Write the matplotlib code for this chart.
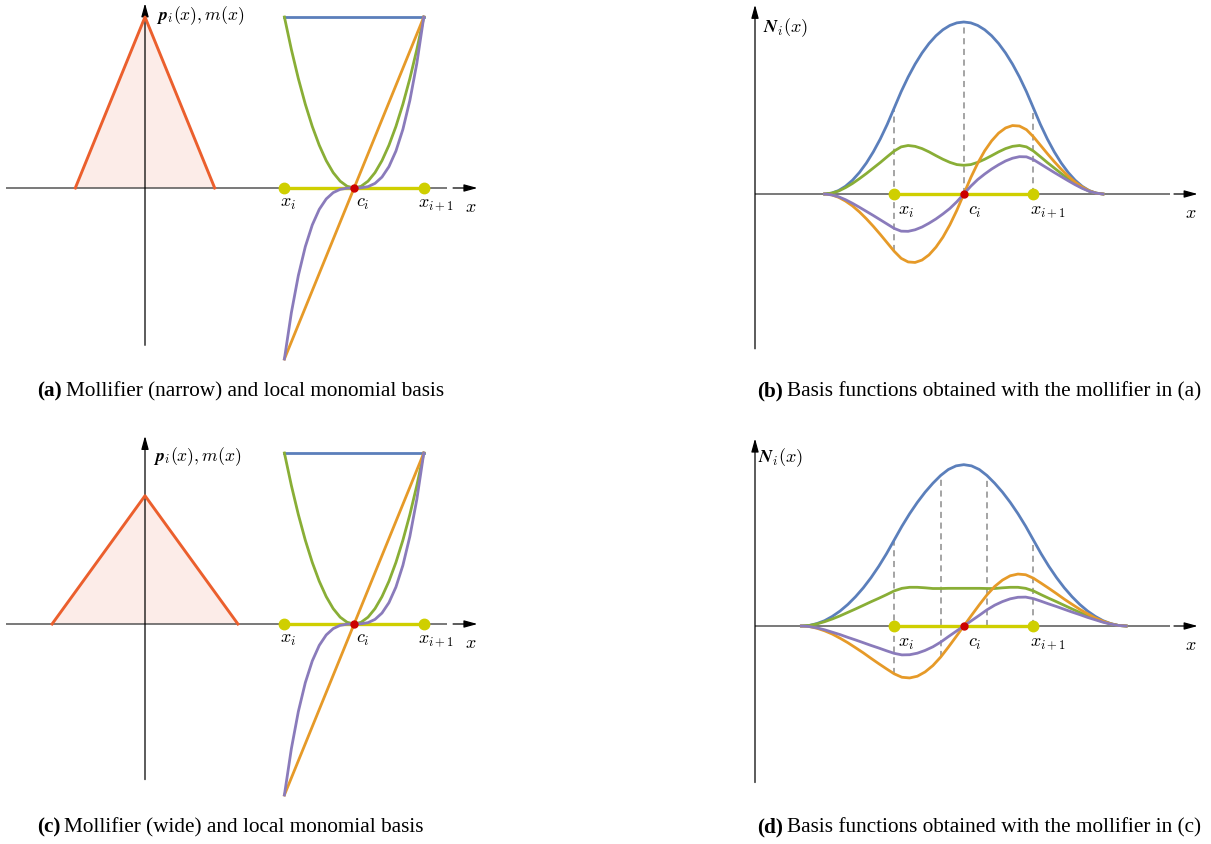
import numpy as np
import matplotlib
matplotlib.use("Agg")
import matplotlib.pyplot as plt

plt.rcParams["mathtext.fontset"] = "cm"

# interval and centre: x_i = 2, c_i = 3, x_{i+1} = 4
node_x = [2.0, 4.0]
node_y = [0.0, 0.0]
centre_x = [3.0]
centre_y = [0.0]

# mollifiers (hat functions)
moll_narrow_x = [-1.0, 0.0, 1.0]
moll_narrow_y = [0.0, 1.0, 0.0]
moll_wide_x = [-1.333, 0.0, 1.333]
moll_wide_y = [0.0, 0.75, 0.0]

# local monomial basis on [x_i, x_{i+1}]
box_x = [2.0, 4.0]
mono_p0 = [1.0, 1.0]
mono_x = [2.0, 2.1, 2.2, 2.3, 2.4, 2.5, 2.6, 2.7, 2.8, 2.9, 3.0,
          3.1, 3.2, 3.3, 3.4, 3.5, 3.6, 3.7, 3.8, 3.9, 4.0]
mono_p1 = [-1.0, -0.9, -0.8, -0.7, -0.6, -0.5, -0.4, -0.3, -0.2, -0.1, 0.0,
           0.1, 0.2, 0.3, 0.4, 0.5, 0.6, 0.7, 0.8, 0.9, 1.0]
mono_p2 = [1.0, 0.81, 0.64, 0.49, 0.36, 0.25, 0.16, 0.09, 0.04, 0.01, 0.0,
           0.01, 0.04, 0.09, 0.16, 0.25, 0.36, 0.49, 0.64, 0.81, 1.0]
mono_p3 = [-1.0, -0.729, -0.512, -0.343, -0.216, -0.125, -0.064, -0.027, -0.008, -0.001, 0.0,
           0.001, 0.008, 0.027, 0.064, 0.125, 0.216, 0.343, 0.512, 0.729, 1.0]

# basis functions, narrow mollifier
nb_x = [1.0, 1.1, 1.2, 1.3, 1.4, 1.5, 1.6, 1.7, 1.8, 1.9, 2.0, 2.1, 2.2, 2.3, 2.4, 2.5, 2.6, 2.7, 2.8, 2.9,
        3.0, 3.1, 3.2, 3.3, 3.4, 3.5, 3.6, 3.7, 3.8, 3.9, 4.0, 4.1, 4.2, 4.3, 4.4, 4.5, 4.6, 4.7, 4.8, 4.9, 5.0]
nb_n0 = [0.000, 0.005, 0.020, 0.045, 0.080, 0.125, 0.180, 0.245, 0.320, 0.405, 0.500, 0.595, 0.680, 0.755,
         0.820, 0.875, 0.920, 0.955, 0.980, 0.995, 1.000, 0.995, 0.980, 0.955, 0.920, 0.875, 0.820, 0.755,
         0.680, 0.595, 0.500, 0.405, 0.320, 0.245, 0.180, 0.125, 0.080, 0.045, 0.020, 0.005, 0.000]
nb_n1 = [0.000, -0.005, -0.019, -0.041, -0.069, -0.104, -0.144, -0.188, -0.235, -0.284, -0.333, -0.374,
         -0.395, -0.398, -0.384, -0.354, -0.309, -0.251, -0.179, -0.095, 0.000, 0.095, 0.179, 0.251, 0.309,
         0.354, 0.384, 0.398, 0.395, 0.374, 0.333, 0.284, 0.235, 0.188, 0.144, 0.104, 0.069, 0.041, 0.019,
         0.005, 0.000]
nb_n2 = [0.000, 0.005, 0.017, 0.037, 0.061, 0.089, 0.119, 0.151, 0.183, 0.217, 0.250, 0.274, 0.282, 0.277,
         0.264, 0.245, 0.223, 0.202, 0.184, 0.171, 0.167, 0.171, 0.184, 0.202, 0.223, 0.245, 0.264, 0.277,
         0.282, 0.274, 0.250, 0.217, 0.183, 0.151, 0.119, 0.089, 0.061, 0.037, 0.017, 0.005, 0.000]
nb_n3 = [0.000, -0.005, -0.016, -0.033, -0.054, -0.077, -0.101, -0.125, -0.150, -0.175, -0.200, -0.216,
         -0.217, -0.208, -0.192, -0.170, -0.145, -0.116, -0.084, -0.045, 0.000, 0.045, 0.084, 0.116, 0.145,
         0.170, 0.192, 0.208, 0.217, 0.216, 0.200, 0.175, 0.150, 0.125, 0.101, 0.077, 0.054, 0.033, 0.016,
         0.005, 0.000]

# basis functions, wide mollifier
wb_x = [0.667, 0.778, 0.889, 1.0, 1.111, 1.222, 1.333, 1.444, 1.556, 1.667, 1.778, 1.889, 2.0, 2.111, 2.222,
        2.333, 2.444, 2.556, 2.667, 2.778, 2.889, 3.0, 3.111, 3.222, 3.333, 3.444, 3.556, 3.667, 3.778, 3.889,
        4.0, 4.111, 4.222, 4.333, 4.444, 4.556, 4.667, 4.778, 4.889, 5.0, 5.111, 5.222, 5.333]
wb_n0 = [0.000, 0.003, 0.014, 0.031, 0.056, 0.087, 0.125, 0.170, 0.222, 0.281, 0.347, 0.420, 0.500, 0.580,
         0.653, 0.719, 0.778, 0.830, 0.875, 0.910, 0.931, 0.938, 0.931, 0.910, 0.875, 0.830, 0.778, 0.719,
         0.653, 0.580, 0.500, 0.420, 0.347, 0.281, 0.222, 0.170, 0.125, 0.087, 0.056, 0.031, 0.014, 0.003, 0.000]
wb_n1 = [0.000, -0.003, -0.013, -0.028, -0.047, -0.071, -0.097, -0.126, -0.156, -0.188, -0.219, -0.249,
         -0.278, -0.298, -0.302, -0.292, -0.267, -0.230, -0.181, -0.123, -0.062, 0.000, 0.062, 0.123, 0.181,
         0.230, 0.267, 0.292, 0.302, 0.298, 0.278, 0.249, 0.219, 0.188, 0.156, 0.126, 0.097, 0.071, 0.047,
         0.028, 0.013, 0.003, 0.000]
wb_n2 = [0.000, 0.003, 0.012, 0.025, 0.041, 0.059, 0.079, 0.099, 0.120, 0.141, 0.161, 0.182, 0.204, 0.219,
         0.225, 0.225, 0.222, 0.218, 0.218, 0.219, 0.219, 0.219, 0.219, 0.219, 0.218, 0.218, 0.222, 0.225,
         0.225, 0.219, 0.204, 0.182, 0.161, 0.141, 0.120, 0.099, 0.079, 0.059, 0.041, 0.025, 0.012, 0.003, 0.000]
wb_n3 = [0.000, -0.003, -0.011, -0.022, -0.036, -0.050, -0.066, -0.081, -0.097, -0.113, -0.128, -0.144,
         -0.159, -0.168, -0.167, -0.158, -0.142, -0.121, -0.094, -0.062, -0.031, 0.000, 0.031, 0.062, 0.094,
         0.121, 0.142, 0.158, 0.167, 0.168, 0.159, 0.144, 0.128, 0.113, 0.097, 0.081, 0.066, 0.050, 0.036,
         0.022, 0.011, 0.003, 0.000]

# where the dashed guide lines go
narrow_dash_x = [2.0, 3.0, 4.0]
wide_dash_x = [2.0, 2.667, 3.333, 4.0]

BLUE = "#5b7fbb"
ORANGE = "#e69a28"
GREEN = "#89ae36"
PURPLE = "#8a7bbb"
HAT = "#eb5f2d"
HAT_FILL = "#fcece8"
YELLOW = "#cfcf00"
RED = "#cc0000"
AXIS_H = "#555555"

W, H = 1211, 844
fig = plt.figure(figsize=(W / 100, H / 100), dpi=100)


def panel(ox, oy, sx, sy, xlim, ylim):
    # ox, oy: pixel position of the data origin; sx, sy: pixels per unit
    left = ox + xlim[0] * sx
    right = ox + xlim[1] * sx
    top = oy - ylim[1] * sy
    bottom = oy - ylim[0] * sy
    ax = fig.add_axes([left / W, 1 - bottom / H, (right - left) / W, (bottom - top) / H])
    ax.set_xlim(xlim)
    ax.set_ylim(ylim)
    ax.axis("off")
    return ax


def arrow(ax, x0, y0, x1, y1, color="black"):
    ax.annotate("", xy=(x1, y1), xytext=(x0, y0),
                arrowprops=dict(arrowstyle="-|>,head_length=0.8,head_width=0.22", color=color,
                                lw=0.9, shrinkA=0, shrinkB=0, mutation_scale=10),
                annotation_clip=False, zorder=1.2)


def axes_lines(ax, xl, xr, ax0, ax1, yb, yt):
    ax.plot([xl, xr], [0, 0], color=AXIS_H, lw=1.1, zorder=1.1, solid_capstyle="butt")
    arrow(ax, ax0, 0, ax1, 0)
    arrow(ax, 0, yb, 0, yt)


def nodes(ax):
    ax.plot(box_x, [0, 0], color=YELLOW, lw=2.4, zorder=2, solid_capstyle="butt")
    ax.plot(node_x, node_y, "o", color=YELLOW, ms=7.5, zorder=4)
    ax.plot(centre_x, centre_y, "o", color=RED, ms=5, zorder=6)


def labels(ax, dx_i, dc, dx_ip, y, xl, yl):
    ax.text(dx_i, y, r"$x_i$", fontsize=13, ha="center", va="baseline")
    ax.text(dc, y, r"$c_i$", fontsize=13, ha="center", va="baseline")
    ax.text(dx_ip, y, r"$x_{i+1}$", fontsize=13, ha="center", va="baseline")
    ax.text(xl, yl, r"$x$", fontsize=13, ha="center", va="baseline")


def monomial_panel(ox, oy, hx, hy, ylabel_pos, yaxis):
    ax = panel(ox, oy, 69.7, 171, (-2.1, 4.9), (-1.08, 1.12))
    axes_lines(ax, -2.0, 4.34, 4.42, 4.77, yaxis[0], yaxis[1])
    ax.fill(hx, hy, color=HAT_FILL, lw=0, zorder=0.5)
    ax.plot(hx, hy, color=HAT, lw=2.1, zorder=3)
    nodes(ax)
    ax.plot(box_x, mono_p0, color=BLUE, lw=2.0, zorder=3)
    ax.plot(mono_x, mono_p2, color=GREEN, lw=2.0, zorder=3)
    ax.plot(mono_x, mono_p1, color=ORANGE, lw=2.0, zorder=3)
    ax.plot(mono_x, mono_p3, color=PURPLE, lw=2.0, zorder=3)
    labels(ax, 2.05, 3.12, 4.17, -0.11, 4.68, -0.14)
    ax.text(ylabel_pos[0], ylabel_pos[1], r"$\boldsymbol{p}_i(x), m(x)$", fontsize=12.7,
            ha="left", va="center")
    return ax


def basis_panel(oy, bx, n0, n1, n2, n3, dash_x, ylabel_pos, yaxis):
    ax = panel(755, oy, 69.6, 172, (-0.2, 6.5), (-0.95, 1.12))
    axes_lines(ax, 0, 5.96, 6.02, 6.36, yaxis[0], yaxis[1])
    for xd in dash_x:
        k = int(np.argmin(np.abs(np.array(bx) - xd)))
        ax.plot([bx[k], bx[k]], [min(0.0, n1[k]), n0[k]], color="#8c8c8c", lw=1.1,
                dashes=(4, 3), zorder=1.5)
    nodes(ax)
    ax.plot(bx, n0, color=BLUE, lw=2.0, zorder=3)
    ax.plot(bx, n2, color=GREEN, lw=2.0, zorder=3)
    ax.plot(bx, n1, color=ORANGE, lw=2.0, zorder=3)
    ax.plot(bx, n3, color=PURPLE, lw=2.0, zorder=3)
    labels(ax, 2.17, 3.16, 4.21, -0.12, 6.26, -0.14)
    ax.text(ylabel_pos[0], ylabel_pos[1], r"$\boldsymbol{N}_i(x)$", fontsize=13.2,
            ha="left", va="center")
    return ax


monomial_panel(145, 188, moll_narrow_x, moll_narrow_y, (0.16, 1.01), (-0.92, 1.08))
basis_panel(194, nb_x, nb_n0, nb_n1, nb_n2, nb_n3, narrow_dash_x, (0.11, 0.97), (-0.90, 1.10))
monomial_panel(145, 624, moll_wide_x, moll_wide_y, (0.11, 0.977), (-0.91, 1.10))
basis_panel(626, wb_x, wb_n0, wb_n1, wb_n2, wb_n3, wide_dash_x, (0.04, 0.977), (-0.91, 1.09))

renderer = fig.canvas.get_renderer()


def caption(bold, rest, px, py, align):
    kw = dict(fontsize=15.3, family="Liberation Serif", va="baseline", ha="left")
    tb = fig.text(0, 0, bold, fontweight="bold", **kw)
    tr = fig.text(0, 0, rest, **kw)
    wb = tb.get_window_extent(renderer).width
    wr = tr.get_window_extent(renderer).width
    gap = 4.0
    x0 = px if align == "left" else px - (wb + gap + wr)
    tb.set_position((x0 / W, 1 - py / H))
    tr.set_position(((x0 + wb + gap) / W, 1 - py / H))


caption("(a)", "Mollifier (narrow) and local monomial basis", 37, 396, "left")
caption("(b)", "Basis functions obtained with the mollifier in (a)", 1201, 396, "right")
caption("(c)", "Mollifier (wide) and local monomial basis", 37, 832, "left")
caption("(d)", "Basis functions obtained with the mollifier in (c)", 1201, 832, "right")

fig.savefig("out.png", dpi=100)
